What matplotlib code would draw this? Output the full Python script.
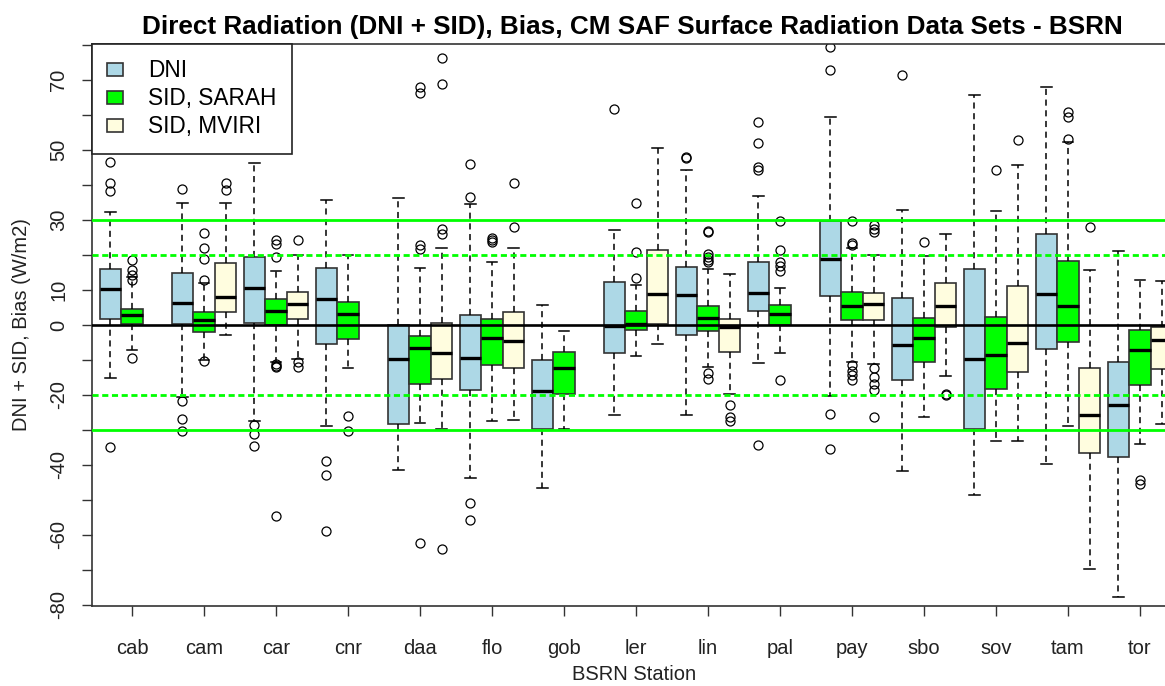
import matplotlib
matplotlib.use('Agg')
import matplotlib.pyplot as plt
from matplotlib.patches import Patch

plt.rcParams['font.family'] = ['Liberation Sans', 'DejaVu Sans']

stations = ['cab', 'cam', 'car', 'cnr', 'daa', 'flo', 'gob', 'ler',
            'lin', 'pal', 'pay', 'sbo', 'sov', 'tam', 'tor']
series = ['DNI', 'SID, SARAH', 'SID, MVIRI']
colors = ['#ADD8E6', '#00FF00', '#FFFDDF']

# (lower whisker, q1, median, q3, upper whisker) per station, None = no data
dni_stats = [(-15.2, 1.6, 10.2, 15.9, 32.4), (-20.5, 0.2, 6.4, 14.8, 34.8),
             (-27.3, 0.5, 10.5, 19.5, 46.2), (-29.0, -5.5, 7.3, 16.4, 35.7),
             (-41.3, -28.2, -9.7, 0.0, 36.2), (-43.7, -18.6, -9.3, 2.9, 34.6),
             (-46.6, -29.6, -19.0, -10.1, 5.6), (-25.6, -8.1, -0.3, 12.2, 27.2),
             (-25.6, -2.9, 8.5, 16.6, 44.2), (-10.9, 4.0, 9.2, 17.9, 36.8),
             (-20.4, 8.3, 18.8, 29.6, 59.3), (-41.8, -15.7, -5.8, 7.7, 32.8),
             (-48.7, -29.8, -9.8, 15.9, 65.8), (-39.7, -6.9, 8.8, 26.1, 67.9),
             (-77.8, -37.8, -23.0, -10.6, 21.2)]
dni_out = [[46.7, 40.5, 38.4, -35.0], [39.0, -21.7, -27.0, -30.2],
           [-28.6, -31.1, -34.6], [-38.8, -42.8, -59.0], [],
           [36.5, 46.0, -51.0, -55.6], [], [61.7], [47.8, 48.1],
           [44.4, 45.2, 52.1, 58.0, -34.4], [73.0, 79.4, -25.4, -35.4],
           [71.4], [], [], []]

sarah_stats = [(-7.1, 0.3, 2.8, 4.7, 13.6), (-10.0, -1.9, 1.4, 3.6, 11.9),
               (-10.5, 0.0, 4.1, 7.3, 15.5), (-12.4, -4.0, 3.1, 6.5, 20.0),
               (-28.0, -16.9, -6.6, -3.2, 16.2), (-27.5, -11.4, -3.7, 1.6, 18.0),
               (-29.6, -19.6, -12.2, -7.7, -1.6), (-9.0, -1.3, 0.3, 4.0, 11.4),
               (-11.9, -1.6, 1.9, 5.3, 15.9), (-8.1, 0.0, 3.2, 5.6, 10.6),
               (-10.6, 1.3, 5.3, 9.3, 22.0), (-26.2, -10.6, -3.7, 2.1, 19.6),
               (-33.1, -18.2, -8.7, 2.4, 32.5), (-28.8, -4.8, 5.5, 18.3, 52.4),
               (-33.9, -17.1, -7.1, -1.3, 13.0)]
sarah_out = [[12.9, 14.3, 15.7, 18.6, -9.5], [12.9, 19.0, 21.9, 26.4, -10.4],
             [19.3, 23.1, 24.3, -11.2, -11.6, -12.0, -54.6], [-25.9, -30.2],
             [21.7, 22.8, 66.3, 67.9, -62.4], [23.8, 24.3, 24.8], [],
             [13.5, 20.8, 34.9],
             [18.0, 18.5, 19.5, 20.3, 26.5, 27.0, -13.8, -15.3],
             [15.3, 16.9, 18.0, 21.5, 29.6, -15.7],
             [22.8, 23.5, 29.6, -11.4, -13.2, -14.3, -15.7], [23.8], [44.4],
             [53.1, 59.3, 60.8], [-44.4, -45.5]]

mviri_stats = [None, (-3.0, 3.8, 8.1, 17.6, 35.0), (-9.8, 1.6, 6.0, 9.3, 20.0),
               None, (-29.6, -15.3, -7.9, 0.5, 21.9),
               (-27.2, -12.2, -4.6, 3.7, 21.9), None,
               (-5.3, 0.3, 8.8, 21.5, 50.6), (-19.6, -7.7, -0.5, 1.6, 14.6),
               None, (-11.1, 1.3, 6.0, 9.2, 20.1),
               (-14.6, -0.7, 5.3, 11.9, 26.1), (-33.1, -13.4, -5.1, 11.1, 45.8),
               (-69.8, -36.5, -25.7, -12.2, 15.6),
               (-28.3, -12.5, -4.2, -0.7, 12.5)]
mviri_out = [[], [38.6, 40.5], [24.3, -10.5, -11.9], [],
             [25.9, 27.5, 69.0, 76.4, -64.0], [28.0, 40.7], [], [],
             [-22.8, -26.2, -27.3], [],
             [26.5, 27.5, 28.6, -12.2, -15.0, -16.9, -18.5, -26.2],
             [-19.6, -19.9], [52.9], [28.0], []]

ytick_vals = list(range(-80, 81, 10))
ytick_shown = [-80, -60, -40, -20, 0, 10, 30, 50, 70]

fig = plt.figure(figsize=(11.65, 6.86), dpi=100)
ax = fig.add_axes([92 / 1165, 80 / 686, 1084 / 1165, 562 / 686])

offsets = [-0.3, 0.0, 0.3]
all_stats = [(dni_stats, dni_out), (sarah_stats, sarah_out), (mviri_stats, mviri_out)]
for k, (st, outs) in enumerate(all_stats):
    bstats, pos = [], []
    for i, (s, o) in enumerate(zip(st, outs)):
        if s is None:
            continue
        lo, q1, med, q3, hi = s
        bstats.append(dict(whislo=lo, q1=q1, med=med, q3=q3, whishi=hi, fliers=o))
        pos.append(i + 1 + offsets[k])
    ax.bxp(bstats, positions=pos, widths=0.3, capwidths=0.15, patch_artist=True,
           manage_ticks=False,
           boxprops=dict(facecolor=colors[k], edgecolor='#333333', linewidth=1.2),
           medianprops=dict(color='black', linewidth=2.4, solid_capstyle='butt'),
           whiskerprops=dict(color='black', linestyle=(0, (4, 3)), linewidth=1.1),
           capprops=dict(color='black', linewidth=1.1),
           flierprops=dict(marker='o', markerfacecolor='none',
                           markeredgecolor='black', markersize=6.5,
                           markeredgewidth=0.9))

# reference lines
ax.axhline(0, color='black', lw=1.9, zorder=4)
for v in (30, -30):
    ax.axhline(v, color='#00FF00', lw=2.0, zorder=4)
for v in (20, -20):
    ax.axhline(v, color='#00FF00', lw=2.0, ls=(0, (2.2, 1.3)), zorder=4)

ax.set_xlim(1 - 40 / 72, 1 - 40 / 72 + 1084 / 72)
ax.set_ylim(-80.3, 80.3)

ax.set_xticks(range(1, len(stations) + 1))
ax.set_xticklabels(stations, fontsize=14.5, color='#222222')
ax.set_yticks(ytick_vals)
ax.set_yticklabels([str(v) if v in ytick_shown else '' for v in ytick_vals],
                   fontsize=14.5, rotation=90, va='center', color='#222222')
ax.tick_params(axis='both', length=7, width=1, color='#333333')
ax.tick_params(axis='x', pad=17)
ax.tick_params(axis='y', pad=10)
for sp in ax.spines.values():
    sp.set_color('#333333')
    sp.set_linewidth(1.2)

ax.set_title('Direct Radiation (DNI + SID), Bias, CM SAF Surface Radiation Data Sets - BSRN',
             fontsize=18.8, fontweight='bold', x=(632 - 92) / 1084, pad=7)
ax.set_xlabel('BSRN Station', fontsize=14.5, color='#222222', labelpad=5)
ax.set_ylabel('DNI + SID, Bias (W/m2)', fontsize=14.5, color='#222222', labelpad=13)

handles = [Patch(facecolor=c, edgecolor='#333333', linewidth=1.2) for c in colors]
leg = ax.legend(handles, series, loc='upper left', bbox_to_anchor=(0, 1),
                borderaxespad=0, fancybox=False, framealpha=1, edgecolor='#222222',
                fontsize=16.3, handlelength=0.7, handleheight=0.48,
                handletextpad=1.1, labelspacing=0.22, borderpad=0.68)
leg.get_frame().set_linewidth(1.2)
leg.set_zorder(5)

fig.savefig('out.png', dpi=100)
